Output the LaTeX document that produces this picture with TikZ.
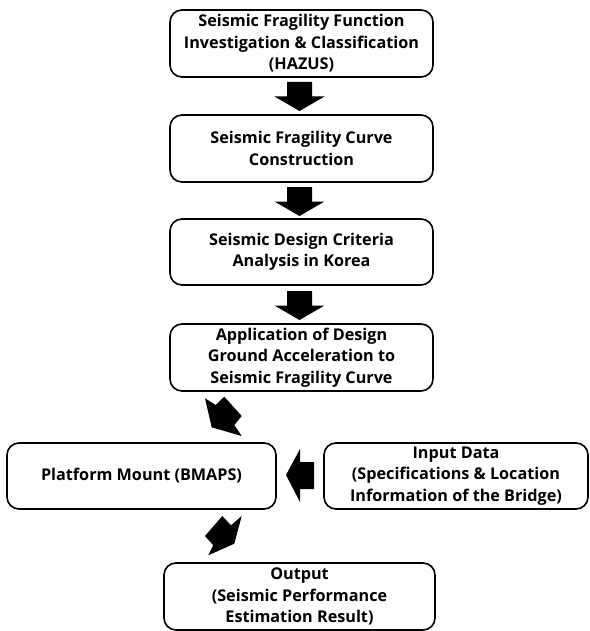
\documentclass[tikz,border=0pt]{standalone}
\usepackage{fontspec}
\setmainfont{Open Sans}
\begin{document}
\begin{tikzpicture}[x=1pt,y=-1pt,
  box/.style={draw=black, line width=1.6pt, rounded corners=12pt, align=center,
    font=\bfseries\fontsize{16.2}{21.5}\selectfont, inner sep=0pt, outer sep=0pt},
  blockarrow/.style={fill=black},
  downarr/.pic={\fill (-12.5,0) -- (12.5,0) -- (12.5,14.5) -- (25,14.5) -- (0,29) -- (-25,14.5) -- (-12.5,14.5) -- cycle;}]
\useasboundingbox (0,0) rectangle (589,631);

\node[box, minimum width=263pt, minimum height=67pt] (b1) at (301.5,43.5)
  {Seismic Fragility Function\\Investigation \& Classification\\(HAZUS)};
\node[box, minimum width=263pt, minimum height=67pt] (b2) at (301.5,148.5)
  {Seismic Fragility Curve\\Construction};
\node[box, minimum width=263pt, minimum height=66pt] (b3) at (301.5,252)
  {Seismic Design Criteria\\Analysis in Korea};
\node[box, minimum width=263pt, minimum height=67pt] (b4) at (301.5,357.5)
  {Application of Design\\Ground Acceleration to\\Seismic Fragility Curve};
\node[box, minimum width=269pt, minimum height=66pt] (b5) at (141.5,476)
  {Platform Mount (BMAPS)};
\node[box, minimum width=264pt, minimum height=66pt] (b6) at (456,476)
  {Input Data\\(Specifications \& Location\\Information of the Bridge)};
\node[box, minimum width=271pt, minimum height=67pt] (b7) at (299.5,596.5)
  {Output\\(Seismic Performance\\Estimation Result)};

% vertical block arrows
\pic at (299.5,82) {downarr};
\pic at (299.5,187) {downarr};
\pic at (299.5,291) {downarr};

% diagonal arrow b4 -> b5
\fill[blockarrow] (205,398.3) -- (215.7,405) -- (224.3,396.7) -- (241.7,416) -- (234.3,425) -- (241.7,436) -- (211.7,427.3) -- cycle;
% left arrow b6 -> b5
\fill[blockarrow] (314,462) -- (300,462) -- (300,449) -- (286,475) -- (300,502) -- (300,489) -- (314,489) -- cycle;
% diagonal arrow b5 -> b7
\fill[blockarrow] (241.7,516) -- (231,525.3) -- (222.3,516) -- (205,536) -- (213.3,545.3) -- (208.3,555.3) -- (234.3,543.7) -- cycle;
\end{tikzpicture}
\end{document}
